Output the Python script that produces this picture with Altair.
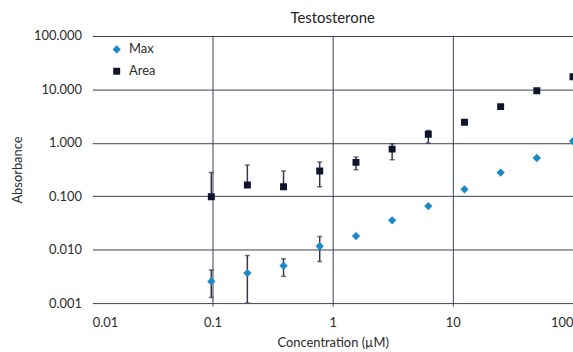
import altair as alt
import pandas as pd

# ---- data ----
conc = [0.0977, 0.195, 0.39, 0.78, 1.5625, 3.125, 6.25, 12.5, 25, 50, 100]
max_vals = [0.00255, 0.00365, 0.0050, 0.0116, 0.018, 0.0354, 0.0655, 0.135, 0.277, 0.52, 1.08]
max_lo = [0.00128, 0.001, 0.00316, 0.0060, None, None, None, None, None, None, None]
max_hi = [0.00415, 0.0078, 0.00675, 0.0177, None, None, None, None, None, None, None]
area_vals = [0.0975, 0.163, 0.15, 0.297, 0.431, 0.763, 1.45, 2.43, 4.76, 9.45, 17.2]
area_lo = [0.09, 0.15, 0.14, 0.15, 0.315, 0.484, 0.99, None, None, None, None]
area_hi = [0.277, 0.385, 0.297, 0.437, 0.542, 0.962, 1.70, None, None, None, None]
series = ["Max", "Area"]
x_ticks = [0.01, 0.1, 1, 10, 100]
y_ticks = [0.001, 0.01, 0.1, 1, 10, 100]

rows = []
for i, c in enumerate(conc):
    rows.append(dict(conc=c, series="Max", value=max_vals[i], lo=max_lo[i], hi=max_hi[i]))
    rows.append(dict(conc=c, series="Area", value=area_vals[i], lo=area_lo[i], hi=area_hi[i]))
df = pd.DataFrame(rows)
err = df.dropna(subset=["lo"])

GRID = "#3c4052"
BLUE = "#1a88c9"
NAVY = "#0f152e"
ERR = "#33364a"
TXT = "#2b2b2b"

xscale = alt.Scale(type="log", domain=[0.01, 100], nice=False)
yscale = alt.Scale(type="log", domain=[0.001, 100], nice=False)

hide_first = {"condition": {"test": "datum.value < 0.05", "value": 0}, "value": 1}

x_axis = alt.Axis(values=x_ticks, format="~g", title="Concentration (µM)",
                  grid=True, gridColor=GRID, gridOpacity=hide_first, gridWidth=1,
                  domain=False, ticks=True, tickSize=3, tickColor=GRID, tickOpacity=hide_first,
                  labelPadding=11, titlePadding=7, labelFontSize=13, titleFontSize=13,
                  titleFontWeight="normal", labelColor=TXT, titleColor=TXT)
y_axis = alt.Axis(values=y_ticks, format=".3f", title="Absorbance",
                  grid=True, gridColor=GRID, gridOpacity=1, gridWidth=1,
                  domain=False, ticks=False, labelPadding=11, titlePadding=9,
                  labelFontSize=13, titleFontSize=13, titleFontWeight="normal",
                  labelColor=TXT, titleColor=TXT)

legend = alt.Legend(orient="none", legendX=18, legendY=7, padding=0, labelFontSize=13,
                    labelColor=TXT, symbolSize=49, labelOffset=6, rowPadding=8, title=None)

X = alt.X("conc:Q", scale=xscale, axis=x_axis)

rules = alt.Chart(err).mark_rule(color=ERR, strokeWidth=1.5, clip=True).encode(
    x=X, y=alt.Y("lo:Q", scale=yscale, axis=y_axis), y2="hi:Q")
cap_lo = alt.Chart(err).mark_tick(color=ERR, orient="horizontal", size=5, thickness=1.5, clip=True).encode(
    x=X, y=alt.Y("lo:Q", scale=yscale, axis=y_axis))
cap_hi = alt.Chart(err).mark_tick(color=ERR, orient="horizontal", size=5, thickness=1.5, clip=True).encode(
    x=X, y=alt.Y("hi:Q", scale=yscale, axis=y_axis))

points = alt.Chart(df).mark_point(filled=True, opacity=1, clip=True).encode(
    x=X,
    y=alt.Y("value:Q", scale=yscale, axis=y_axis),
    color=alt.Color("series:N", scale=alt.Scale(domain=series, range=[BLUE, NAVY]), legend=legend),
    shape=alt.Shape("series:N", scale=alt.Scale(domain=series, range=["diamond", "square"]), legend=legend),
    size=alt.Size("series:N", scale=alt.Scale(domain=series, range=[70, 49]), legend=None),
)

chart = alt.layer(rules, cap_lo, cap_hi, points).properties(
    width=484, height=269,
    title=alt.TitleParams("Testosterone", fontSize=15, fontWeight="normal", color="#222222",
                          offset=4, anchor="middle"),
    autosize=alt.AutoSizeParams(type="none"),
    padding={"left": 93, "top": 35, "right": 0, "bottom": 48},
).configure(font="Lato").configure_view(stroke=None)

chart.save("out.html", embed_options={"renderer": "svg", "actions": False})
